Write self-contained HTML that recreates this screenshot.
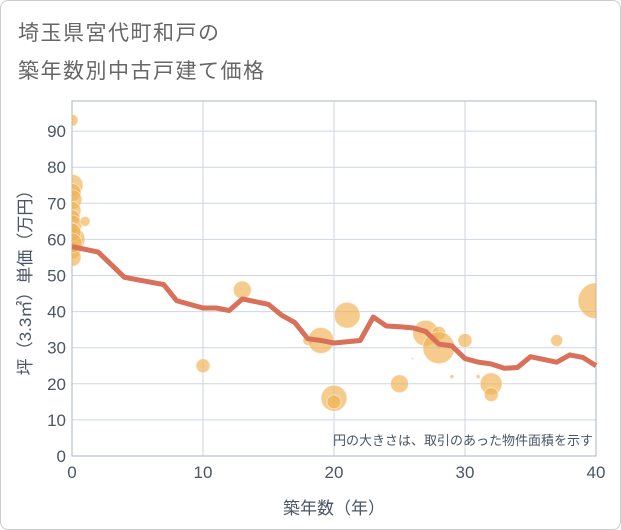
<!DOCTYPE html>
<html><head><meta charset="utf-8"><style>
body{margin:0;background:#fff;font-family:"Liberation Sans","Noto Sans CJK JP",sans-serif;}
#frame{position:absolute;left:0;top:0;width:619px;height:528px;border:1px solid #ccc;border-radius:8px;background:#fff;}
.title{position:absolute;left:18px;font-size:21px;color:#666;letter-spacing:1.5px;}
</style></head><body>
<div id="frame"></div>
<div class="title" style="top:17px">埼玉県宮代町和戸の</div>
<div class="title" style="top:55px">築年数別中古戸建て価格</div>
<svg id="chart" width="621" height="530" style="position:absolute;left:0;top:0"></svg>
<script>
const xTicks=[0,10,20,30,40];
const yTicks=[0,10,20,30,40,50,60,70,80,90];
const lineX=[0,2,4,7,8,10,11,12,13,15,16,17,18,19,20,22,23,24,25,26,27,28,29,30,31,32,33,34,35,37,38,39,40];
const lineY=[58,56.5,49.5,47.5,43,41,41,40.3,43.5,42,39,37,32.5,32,31.3,32,38.5,36,35.8,35.5,34.5,31,30.5,27,26,25.5,24.3,24.5,27.5,26,28,27.3,25];
const bubX=[0,0,0,0,0,0,0,0,0,0,0,1,10,13,18,19,20,20,21,25,27,28,28,30,29,31,32,32,37,40,26,0,0];
const bubY=[93,75,73,71,68,66,64,60,57,55,63,65,25,46,32,32,16,15,39,20,34,34,30,32,22,22,20,17,32,43,27,62,59];
const bubR=[6,11,9,10,9,8,10,13,9,9,6,5,7,9,5,13,13,7,13,9,13,7,16,7,2,2,11,7,6,18,1,9,10];
const L=72,R=596,T=101,B=456;
const xs=v=>L+(v/40)*(R-L);
const ys=v=>B-v*3.61;
const svg=document.getElementById('chart');
const NS='http://www.w3.org/2000/svg';
function mk(t,a){const e=document.createElementNS(NS,t);for(const k in a)e.setAttribute(k,a[k]);svg.appendChild(e);return e;}
const defs=mk('defs',{});
const cp=document.createElementNS(NS,'clipPath');cp.setAttribute('id','pc');
const cr=document.createElementNS(NS,'rect');cr.setAttribute('x',L);cr.setAttribute('y',T);cr.setAttribute('width',R-L);cr.setAttribute('height',B-T);
cp.appendChild(cr);defs.appendChild(cp);
yTicks.forEach(v=>{
 const g=mk('line',{x1:L,x2:R,y1:ys(v),y2:ys(v),stroke:'#cdd6e2','stroke-width':1});
 
 
 const t=mk('text',{x:L-6,y:ys(v)+6,'text-anchor':'end','font-size':17,fill:'#4a5566'});
 t.textContent=v;
 
 
});
xTicks.forEach(v=>{
 const g=mk('line',{x1:xs(v),x2:xs(v),y1:T,y2:B,stroke:'#cdd6e2','stroke-width':1});
 
 
 const t=mk('text',{x:xs(v),y:B+22,'text-anchor':'middle','font-size':17,fill:'#4a5566'});
 t.textContent=v;
 
 
});
const fr=mk('rect',{x:L,y:T,width:R-L,height:B-T,fill:'none',stroke:'#aab4c0','stroke-width':1});


const bg=mk('g',{'clip-path':'url(#pc)'});
bubX.forEach((x,i)=>{
 const c=document.createElementNS(NS,'circle');
 c.setAttribute('cx',xs(x));c.setAttribute('cy',ys(bubY[i]));c.setAttribute('r',bubR[i]);
 c.setAttribute('fill','#f0b050');c.setAttribute('fill-opacity','0.65');c.setAttribute('stroke','#fff');c.setAttribute('stroke-opacity','0.5');
 
 
 bg.appendChild(c);
});
const pts=lineX.map((x,i)=>xs(x)+','+ys(lineY[i])).join(' ');
const pl=mk('polyline',{points:pts,fill:'none',stroke:'#d9705a','stroke-width':5,'stroke-linejoin':'round'});


const note=mk('text',{x:R-3,y:B-11,'text-anchor':'end','font-size':13,fill:'#4a5566'});
note.textContent='円の大きさは、取引のあった物件面積を示す';


const xt=mk('text',{x:(L+R)/2,y:514,'text-anchor':'middle','font-size':17,fill:'#4a5566'});
xt.textContent='築年数（年）';


const yt=mk('text',{x:0,y:0,'text-anchor':'middle','font-size':17,fill:'#4a5566',transform:'translate(31,'+((T+B)/2)+') rotate(-90)'});
yt.textContent='坪（3.3㎡）単価（万円）';


</script>
</body></html>
